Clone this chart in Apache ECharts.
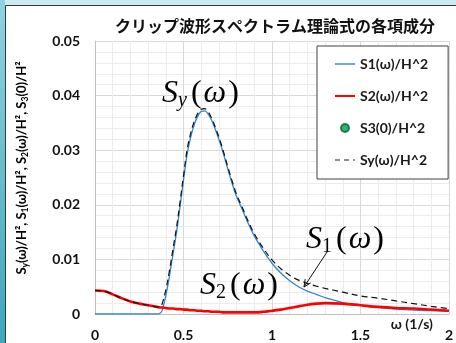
<!DOCTYPE html>
<html>
<head>
<meta charset="utf-8">
<script src="https://cdn.jsdelivr.net/npm/echarts@6/dist/echarts.min.js"></script>
<style>
  html, body { margin: 0; padding: 0; background: #ffffff; }
  #chart { width: 456px; height: 343px; }
</style>
</head>
<body>
<div id="chart"></div>
<script>
// Angular frequency ω (1/s)
const omega = [0, 0.05, 0.1, 0.15, 0.2, 0.25, 0.3, 0.35, 0.37, 0.38, 0.4, 0.42, 0.44, 0.46, 0.48,
  0.5, 0.52, 0.54, 0.56, 0.58, 0.6, 0.62, 0.64, 0.66, 0.68, 0.7, 0.72, 0.75, 0.78, 0.8, 0.83, 0.86,
  0.9, 0.95, 1.0, 1.05, 1.1, 1.15, 1.2, 1.25, 1.3, 1.4, 1.5, 1.6, 1.7, 1.8, 1.9, 2.0];

// S1(ω)/H^2
const s1 = [0, 0, 0, 0, 0, 0, 0, 0, 0.0002, 0.0007, 0.0033, 0.0068, 0.0108, 0.0148, 0.0195,
  0.0245, 0.0292, 0.0323, 0.0346, 0.0362, 0.0371, 0.0372, 0.0366, 0.0354, 0.0338, 0.0320, 0.0300, 0.0266, 0.0234, 0.0215, 0.0193, 0.0170,
  0.0143, 0.0116, 0.0093, 0.0075, 0.0061, 0.0050, 0.0042, 0.0036, 0.0030, 0.0021, 0.0016, 0.0012, 0.0009, 0.0007, 0.0006, 0.0005];

// S2(ω)/H^2
const s2 = [0.0043, 0.0042, 0.0036, 0.0029, 0.0023, 0.0019, 0.0016, 0.0013, 0.0012, 0.0012, 0.0011, 0.0010, 0.0010, 0.0009, 0.0009,
  0.0008, 0.0008, 0.0007, 0.0007, 0.0006, 0.0006, 0.0005, 0.0005, 0.0004, 0.0004, 0.0004, 0.0003, 0.0003, 0.0003, 0.0003, 0.0003, 0.0003,
  0.0003, 0.0004, 0.0006, 0.0008, 0.0011, 0.0014, 0.0017, 0.0019, 0.0020, 0.0019, 0.0016, 0.0013, 0.0011, 0.0010, 0.0008, 0.0006];

// Sy(ω)/H^2
const sy = [0.0043, 0.0042, 0.0036, 0.0029, 0.0023, 0.0019, 0.0016, 0.0013, 0.0014, 0.0019, 0.0044, 0.0078, 0.0118, 0.0157, 0.0204,
  0.0253, 0.0300, 0.0330, 0.0352, 0.0367, 0.0375, 0.0376, 0.0370, 0.0358, 0.0342, 0.0324, 0.0304, 0.0270, 0.0238, 0.0219, 0.0197, 0.0174,
  0.0147, 0.0121, 0.0099, 0.0083, 0.0071, 0.0062, 0.0056, 0.0051, 0.0047, 0.0040, 0.0033, 0.0029, 0.0024, 0.0019, 0.0014, 0.0010];

// S3(0)/H^2 — no point inside the plotted window
const s3 = [];

const xTickLabels = ['0', '0.5', '1', '1.5', '2'];
const yTickLabels = ['0', '0.01', '0.02', '0.03', '0.04', '0.05'];

const titleText = 'クリップ波形スペクトラム理論式の各項成分';
const seriesNames = ['S1(ω)/H^2', 'S2(ω)/H^2', 'S3(0)/H^2', 'Sy(ω)/H^2'];

const pairs = (xs, ys) => xs.map((x, i) => [x, ys[i]]);

const labelFont = 'Lato, "Noto Sans", "DejaVu Sans", sans-serif';
const mathFont = '"Liberation Serif", "DejaVu Serif", serif';

const chart = echarts.init(document.getElementById('chart'), null, { renderer: 'canvas' });

const mathRich = {
  m: { fontFamily: mathFont, fontStyle: 'italic', fontSize: 32, color: '#111', lineHeight: 38 },
  s: { fontFamily: mathFont, fontStyle: 'italic', fontSize: 20, color: '#111', lineHeight: 38, padding: [14, 2, 0, 0] },
  d: { fontFamily: mathFont, fontSize: 20, color: '#111', lineHeight: 38, padding: [14, 2, 0, 0] },
  p: { fontFamily: mathFont, fontSize: 32, color: '#7a5a58', lineHeight: 38, padding: [0, 2, 0, 2] }
};

const axisNameRich = {
  m: { fontFamily: labelFont, fontWeight: 'bold', fontSize: 13, color: '#111' },
  s: { fontFamily: labelFont, fontWeight: 'bold', fontSize: 8.5, color: '#111', padding: [7, 0, 0, 0] }
};

// line entries in the legend show only the stroke
const lineOnly = { opacity: 0, borderWidth: 0 };

chart.setOption({
  animation: false,
  title: {
    text: titleText,
    left: 270,
    textAlign: 'center',
    top: 13,
    textStyle: { fontFamily: '"Noto Sans CJK JP", sans-serif', fontWeight: 'bold', fontSize: 16, color: '#111' }
  },
  grid: { left: 95, top: 41, right: 6, bottom: 29, containLabel: false },
  legend: {
    data: [
      { name: seriesNames[0], lineStyle: { color: '#6aa8e0', width: 2 }, itemStyle: lineOnly },
      { name: seriesNames[1], lineStyle: { color: '#ff0000', width: 2 }, itemStyle: lineOnly },
      { name: seriesNames[2], icon: 'circle' },
      { name: seriesNames[3], lineStyle: { color: '#222', width: 1.2, type: [5, 4] }, itemStyle: lineOnly }
    ],
    orient: 'vertical',
    left: 317,
    top: 46,
    padding: [11, 20, 12, 17],
    itemWidth: 20,
    itemHeight: 8,
    itemGap: 18,
    backgroundColor: '#ffffff',
    borderColor: '#404040',
    borderWidth: 1,
    z: 20,
    textStyle: { fontFamily: labelFont, fontWeight: 'bold', fontSize: 14, color: '#1a1a1a' }
  },
  xAxis: {
    type: 'value',
    min: 0,
    max: 2,
    interval: 0.5,
    name: 'ω (1/s)',
    nameLocation: 'end',
    nameGap: -16,
    nameTextStyle: { fontFamily: labelFont, fontWeight: 'bold', fontSize: 14, color: '#1a1a1a', align: 'right', verticalAlign: 'top', padding: [3, 0, 0, 0] },
    axisLine: { show: true, lineStyle: { color: '#bfbfbf', width: 1 } },
    axisTick: { show: false },
    axisLabel: {
      margin: 14, fontFamily: labelFont, fontWeight: 'bold', fontSize: 14, color: '#111',
      formatter: (v) => xTickLabels[Math.round(v / 0.5)]
    },
    splitLine: { show: true, lineStyle: { color: '#d9d9d9', width: 1 } },
    minorTick: { show: false, splitNumber: 5 },
    minorSplitLine: { show: true, lineStyle: { color: '#ececec', width: 1 } }
  },
  yAxis: {
    type: 'value',
    min: 0,
    max: 0.05,
    interval: 0.01,
    axisLine: { show: true, lineStyle: { color: '#bfbfbf', width: 1 } },
    axisTick: { show: false },
    axisLabel: {
      margin: 15, fontFamily: labelFont, fontWeight: 'bold', fontSize: 14, color: '#111',
      formatter: (v) => yTickLabels[Math.round(v / 0.01)]
    },
    splitLine: { show: true, lineStyle: { color: '#d9d9d9', width: 1 } },
    minorTick: { show: false, splitNumber: 5 },
    minorSplitLine: { show: true, lineStyle: { color: '#ececec', width: 1 } }
  },
  series: [
    {
      name: seriesNames[0], type: 'line', data: pairs(omega, s1), symbol: 'none', smooth: 0.35,
      lineStyle: { color: '#2f86d4', width: 1.3 }, itemStyle: { color: '#6aa8e0' }, z: 3
    },
    {
      name: seriesNames[1], type: 'line', data: pairs(omega, s2), symbol: 'none', smooth: 0.35,
      lineStyle: { color: '#ff0000', width: 2.6 }, itemStyle: { color: '#ff0000' }, z: 4
    },
    {
      name: seriesNames[2], type: 'scatter', data: s3, symbolSize: 8,
      itemStyle: { color: '#00a04a', borderColor: '#006b30', borderWidth: 0.5 }
    },
    {
      name: seriesNames[3], type: 'line', data: pairs(omega, sy), symbol: 'none', smooth: 0.35,
      lineStyle: { color: '#111111', width: 1.2, type: [6, 4] }, itemStyle: { color: '#111111' }, z: 5
    }
  ],
  graphic: [
    // page frame
    { type: 'rect', z: -100, shape: { x: 0, y: 0, width: 456, height: 343 },
      style: { fill: new echarts.graphic.LinearGradient(0, 0, 0, 1, [
        { offset: 0, color: '#8fd3df' }, { offset: 1, color: '#3da7bd' }]) } },
    { type: 'rect', z: -99, shape: { x: 5, y: 0, width: 451, height: 5 }, style: { fill: '#cbeaf2' } },
    { type: 'rect', z: -98, shape: { x: 5.5, y: 5.5, width: 460, height: 350 },
      style: { fill: '#ffffff', stroke: '#3a3a3a', lineWidth: 1 } },
    // vertical axis title
    { type: 'text', z: 50, x: 22, y: 168, rotation: Math.PI / 2,
      style: {
        text: '{m|S}{s|y}{m|(ω)/H², S}{s|1}{m|(ω)/H², S}{s|2}{m|(ω)/H², S}{s|3}{m|(0)/H²}',
        rich: axisNameRich, align: 'center', verticalAlign: 'middle'
      } },
    // curve annotations
    { type: 'text', z: 50, x: 162, y: 94,
      style: { text: '{m|S}{s|y}{p|(}{m|ω}{p|)}', rich: mathRich, align: 'left', verticalAlign: 'middle' } },
    { type: 'text', z: 50, x: 306, y: 240,
      style: { text: '{m|S}{d|1}{p|(}{m|ω}{p|)}', rich: mathRich, align: 'left', verticalAlign: 'middle' } },
    { type: 'text', z: 50, x: 200, y: 286,
      style: { text: '{m|S}{d|2}{p|(}{m|ω}{p|)}', rich: mathRich, align: 'left', verticalAlign: 'middle' } },
    // pointer from the S1 label to its curve
    { type: 'line', z: 50, shape: { x1: 327, y1: 252, x2: 304, y2: 287 }, style: { stroke: '#111', lineWidth: 1 } },
    { type: 'polyline', z: 50, shape: { points: [[310.8, 282.8], [304, 287], [305.2, 279.1]] },
      style: { stroke: '#111', lineWidth: 1, fill: null } }
  ]
});
</script>
</body>
</html>
